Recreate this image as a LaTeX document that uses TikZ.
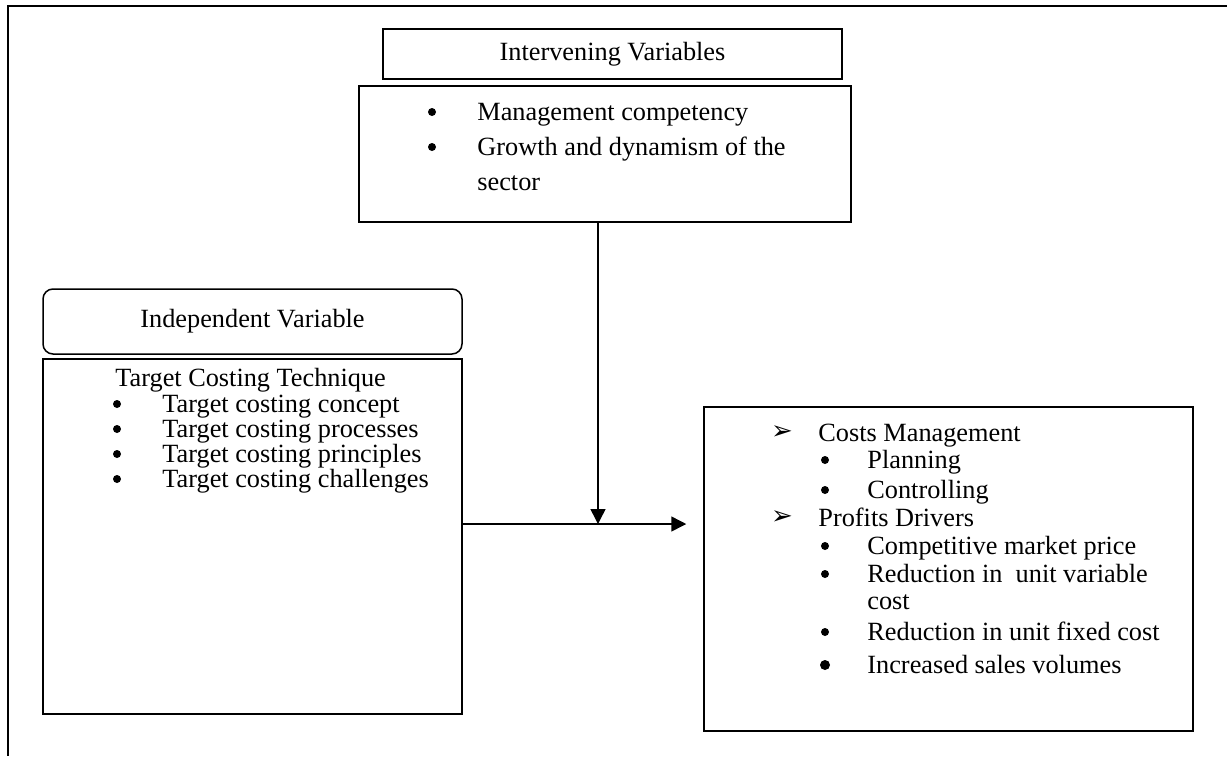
\documentclass[tikz,border=0pt]{standalone}
\usepackage{fontspec}
\setmainfont{Liberation Serif}
\newfontfamily\djv{DejaVu Sans}
\usetikzlibrary{arrows.meta}
\begin{document}
\begin{tikzpicture}[x=0.5pt,y=-0.5pt,
  every node/.style={font=\fontsize{13.15pt}{15.8pt}\selectfont},
  boxsq/.style={draw, line width=0.75pt, inner sep=0pt},
  boxrd/.style={draw, line width=0.75pt, inner sep=0pt, rounded corners=5pt},
  txt/.style={anchor=base west, inner sep=0pt},
  dot/.style={circle, fill=black, inner sep=0pt, minimum size=4pt},
  bigdot/.style={circle, fill=black, inner sep=0pt, minimum size=5pt},
  arw/.style={anchor=center, inner sep=0pt, font=\djv\fontsize{13pt}{13pt}\selectfont},
  conn/.style={line width=0.75pt, -{Triangle[length=7.5pt,width=7.5pt]}}]
\useasboundingbox (0,0) rectangle (1227,756);
% outer frame (runs off the right and bottom edges)
\draw[line width=0.75pt] (1227,6) -- (8,6) -- (8,756);

% boxes
\node[boxsq, minimum width=229.5pt, minimum height=25pt] (ivt) at (612.5,54) {Intervening Variables};
\node[boxsq, minimum width=246pt, minimum height=68pt] (ivc) at (605,154) {};
\node[boxrd, minimum width=209.5pt, minimum height=32.5pt] (idt) at (252.5,321.5) {Independent Variable};
\node[boxsq, minimum width=209.5pt, minimum height=177.5pt] (idc) at (252.5,536.5) {};
\node[boxsq, minimum width=244.5pt, minimum height=162pt] (dep) at (948.5,569) {};

% intervening text
\node[dot] (ivb1) at (432,112) {};
\node[txt] (ivl1) at (477,120) {Management competency};
\node[dot] (ivb2) at (432,147) {};
\node[txt] (ivl2) at (477,155) {Growth and dynamism of the};
\node[txt] (ivl3) at (477,190) {sector};

% independent text
\node[txt] (idh) at (115,386) {Target Costing Technique};
\node[dot] (idb1) at (117,404) {};
\node[txt] (idl1) at (162,412) {Target costing concept};
\node[dot] (idb2) at (117,429) {};
\node[txt] (idl2) at (162,437) {Target costing processes};
\node[dot] (idb3) at (117,454) {};
\node[txt] (idl3) at (162,462) {Target costing principles};
\node[dot] (idb4) at (117,479) {};
\node[txt] (idl4) at (162,487) {Target costing challenges};

% dependent text
\node[arw] (da1) at (782,433) {➢};
\node[txt] (dh1) at (818,441) {Costs Management};
\node[dot] (db1) at (825,460) {};
\node[txt] (dl1) at (867,468) {Planning};
\node[dot] (db2) at (825,490) {};
\node[txt] (dl2) at (867,498) {Controlling};
\node[arw] (da2) at (782,518) {➢};
\node[txt] (dh2) at (818,526) {Profits Drivers};
\node[dot] (db3) at (825,546) {};
\node[txt] (dl3) at (867,554) {Competitive market price};
\node[dot] (db4) at (825,574) {};
\node[txt] (dl4) at (867,582) {Reduction in\ \ unit variable};
\node[txt] (dl4b) at (867,609) {cost};
\node[dot] (db5) at (825,632) {};
\node[txt] (dl5) at (867,640) {Reduction in unit fixed cost};
\node[bigdot] (db6) at (825,665) {};
\node[txt] (dl6) at (867,673) {Increased sales volumes};

% connectors
\coordinate (meet) at (598,524);
\draw[conn] (meet |- ivc.south) -- (meet);
\draw[conn, shorten >=8.5pt] (idc.east |- meet) -- (dep.west |- meet);
\end{tikzpicture}
\end{document}
